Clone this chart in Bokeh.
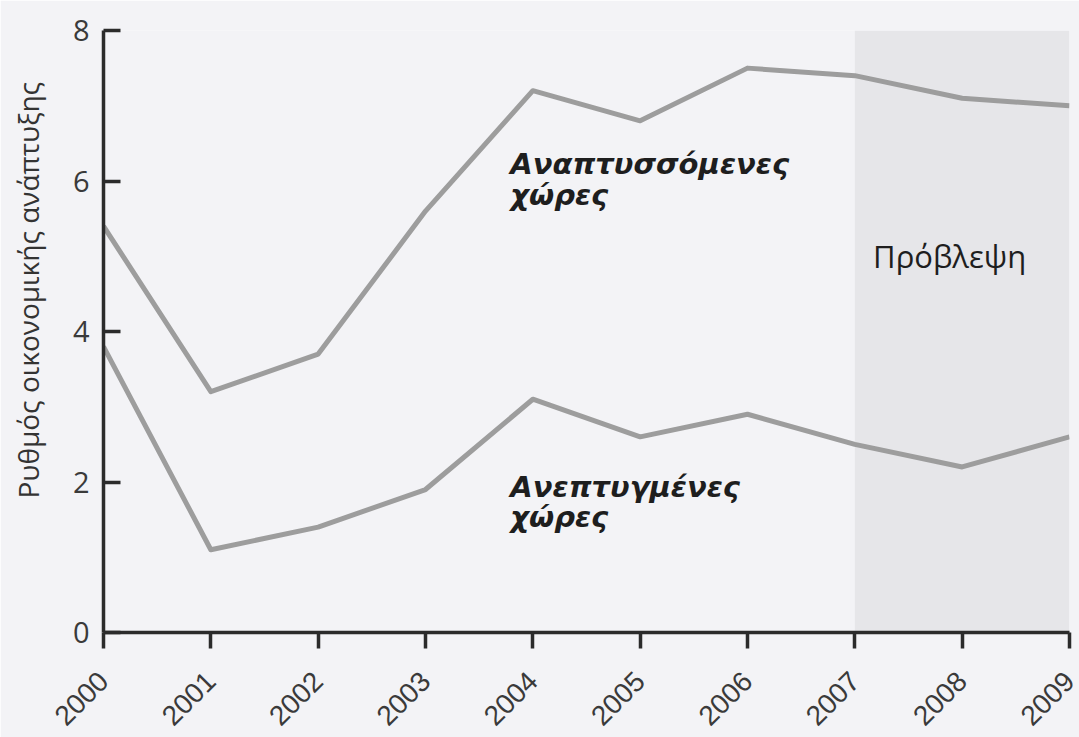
import math

from bokeh.plotting import figure
from bokeh.models import BoxAnnotation, Label, FixedTicker, Range1d, Title
from bokeh.embed import file_html
from bokeh.resources import INLINE

# Annual economic growth rate (%), 2000-2009 (2007 onwards is a forecast)
years = [2000, 2001, 2002, 2003, 2004, 2005, 2006, 2007, 2008, 2009]
developing = [5.4, 3.2, 3.7, 5.6, 7.2, 6.8, 7.5, 7.4, 7.1, 7.0]
developed = [3.8, 1.1, 1.4, 1.9, 3.1, 2.6, 2.9, 2.5, 2.2, 2.6]
y_ticks = [0, 2, 4, 6, 8]
forecast_start = 2007

BG = "#f3f3f6"
AXIS = "#2b2b2b"
LINE = "#9d9d9d"

p = figure(
    width=1079, height=737,
    output_backend="svg", toolbar_location=None,
    x_range=Range1d(2000, 2009), y_range=Range1d(0, 8),
    min_border_left=103, min_border_right=10,
    min_border_top=30, min_border_bottom=105,
)
p.background_fill_color = BG
p.border_fill_color = BG
p.outline_line_color = None
p.xgrid.visible = False
p.ygrid.visible = False

# forecast period
p.add_layout(BoxAnnotation(left=forecast_start, right=2009, bottom=0, top=8,
                           fill_color="#e6e6e9", fill_alpha=1.0,
                           line_color=None, level="underlay"))

p.line(years, developing, line_color=LINE, line_width=5, line_join="round")
p.line(years, developed, line_color=LINE, line_width=5, line_join="round")

# axes
for ax in (p.xaxis[0], p.yaxis[0]):
    ax.axis_line_color = AXIS
    ax.axis_line_width = 3.5
    ax.major_tick_line_color = AXIS
    ax.major_tick_line_width = 3.5
    ax.minor_tick_line_color = None
    ax.major_label_text_color = "#3a3a3a"

p.xaxis.ticker = FixedTicker(ticks=years)
p.xaxis.major_label_overrides = {y: str(y) for y in years}
p.xaxis.major_tick_in = 0
p.xaxis.major_tick_out = 16
p.xaxis.major_label_orientation = math.pi / 4
p.xaxis.major_label_text_font = "Liberation Sans"
p.xaxis.major_label_text_font_size = "28px"
p.xaxis.major_label_text_line_height = 0.9
p.xaxis.major_label_standoff = 28

p.yaxis.ticker = FixedTicker(ticks=y_ticks)
p.yaxis.major_tick_in = 17
p.yaxis.major_tick_out = 0
p.yaxis.major_label_text_font = "Open Sans"
p.yaxis.major_label_text_font_size = "29px"
p.yaxis.major_label_standoff = 14

# spacer between the tick labels and the y-axis title
p.add_layout(Title(text=" ", text_font_size="6px"), "left")

# y-axis title, drawn as a side title so it can sit below the frame's centre
p.add_layout(Title(text="Ρυθμός οικονομικής ανάπτυξης", align="left", offset=134,
                   text_font="Open Sans", text_font_size="28px",
                   text_font_style="normal", text_color="#333333"), "left")

# series labels
def series_label(x, y, text):
    p.add_layout(Label(x=x, y=y, text=text, text_font="DejaVu Sans",
                       text_font_style="bold italic", text_font_size="29px",
                       text_color="#1e1e1e", text_baseline="alphabetic",
                       text_align="left"))

series_label(2003.79, 6.23, "Αναπτυσσόμενες")
series_label(2003.79, 5.82, "χώρες")
series_label(2003.79, 1.93, "Ανεπτυγμένες")
series_label(2003.79, 1.53, "χώρες")

p.add_layout(Label(x=2007.17, y=5.0, text="Πρόβλεψη", text_font="Open Sans",
                   text_font_size="31px", text_color="#1e1e1e",
                   text_baseline="alphabetic", text_align="left"))

open("out.html", "w").write(file_html(p, INLINE))
